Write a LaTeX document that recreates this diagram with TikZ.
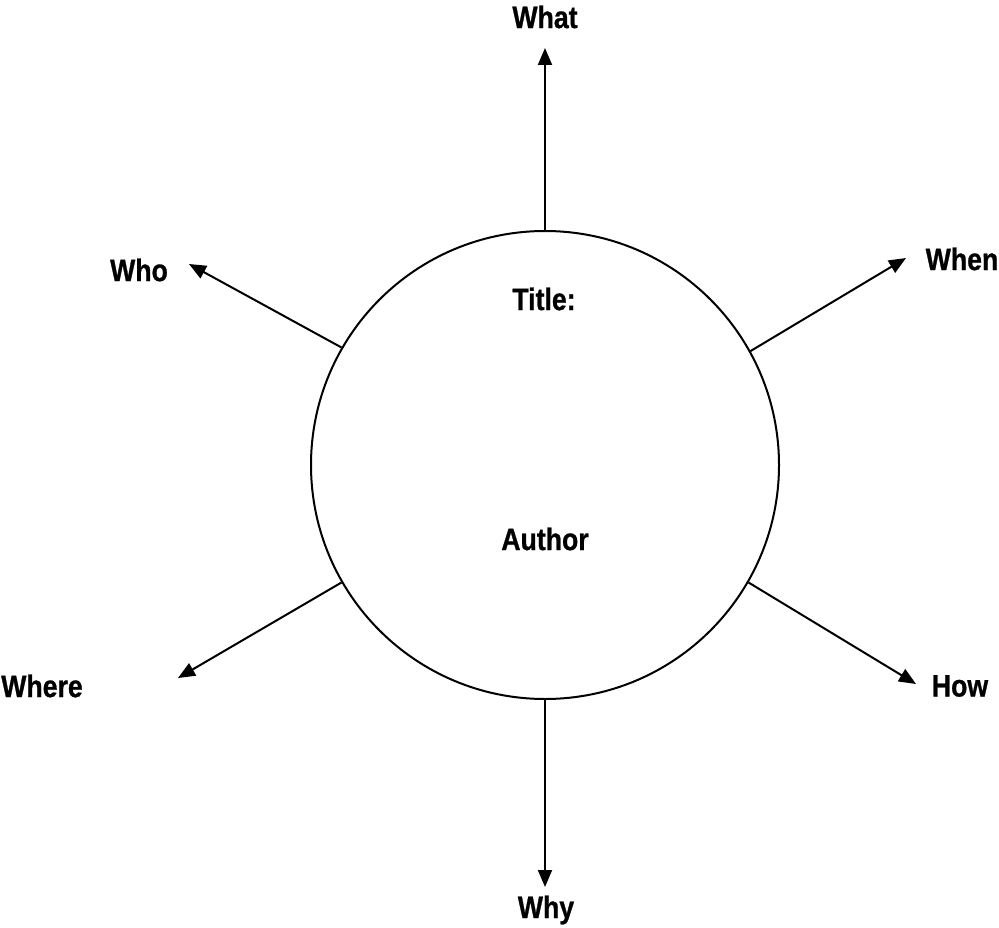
\documentclass[tikz,border=0pt]{standalone}
\usepackage{fontspec}
\setmainfont{Liberation Sans}[FakeStretch=0.86, BoldFeatures={FakeBold=0.8}]
\usetikzlibrary{arrows.meta}
\begin{document}
\begin{tikzpicture}[x=1pt,y=-1pt,
  lbl/.style={font=\fontsize{31}{34}\selectfont\bfseries, inner sep=0pt},
  spoke/.style={line width=2pt, -{Triangle[length=17pt,width=14pt]}},
  ring/.style={draw, line width=2pt, circle, minimum size=468pt, inner sep=0pt}]
\useasboundingbox (0,0) rectangle (999,928);
\node[ring] (c) at (545,465) {};
\node[lbl] (title) at (544,299) {Title:};
\node[lbl] (author) at (545,539) {Author};
\node[lbl] (what) at (545,17) {What};
\node[lbl] (when) at (962,259) {When};
\node[lbl] (how) at (960,686) {How};
\node[lbl] (why) at (546,910) {Why};
\node[lbl] (where) at (42,686) {Where};
\node[lbl] (who) at (139,270) {Who};
\coordinate (twhat) at (545,48);
\coordinate (twhen) at (906,258);
\coordinate (thow) at (916,684);
\coordinate (twhy) at (545,887);
\coordinate (twhere) at (178,678);
\coordinate (twho) at (189,264);
\draw[spoke] (c.90) -- (twhat);
\draw[spoke] (c.29.5) -- (twhen);
\draw[spoke] (c.-30) -- (thow);
\draw[spoke] (c.270) -- (twhy);
\draw[spoke] (c.210) -- (twhere);
\draw[spoke] (c.150) -- (twho);
\end{tikzpicture}
\end{document}
